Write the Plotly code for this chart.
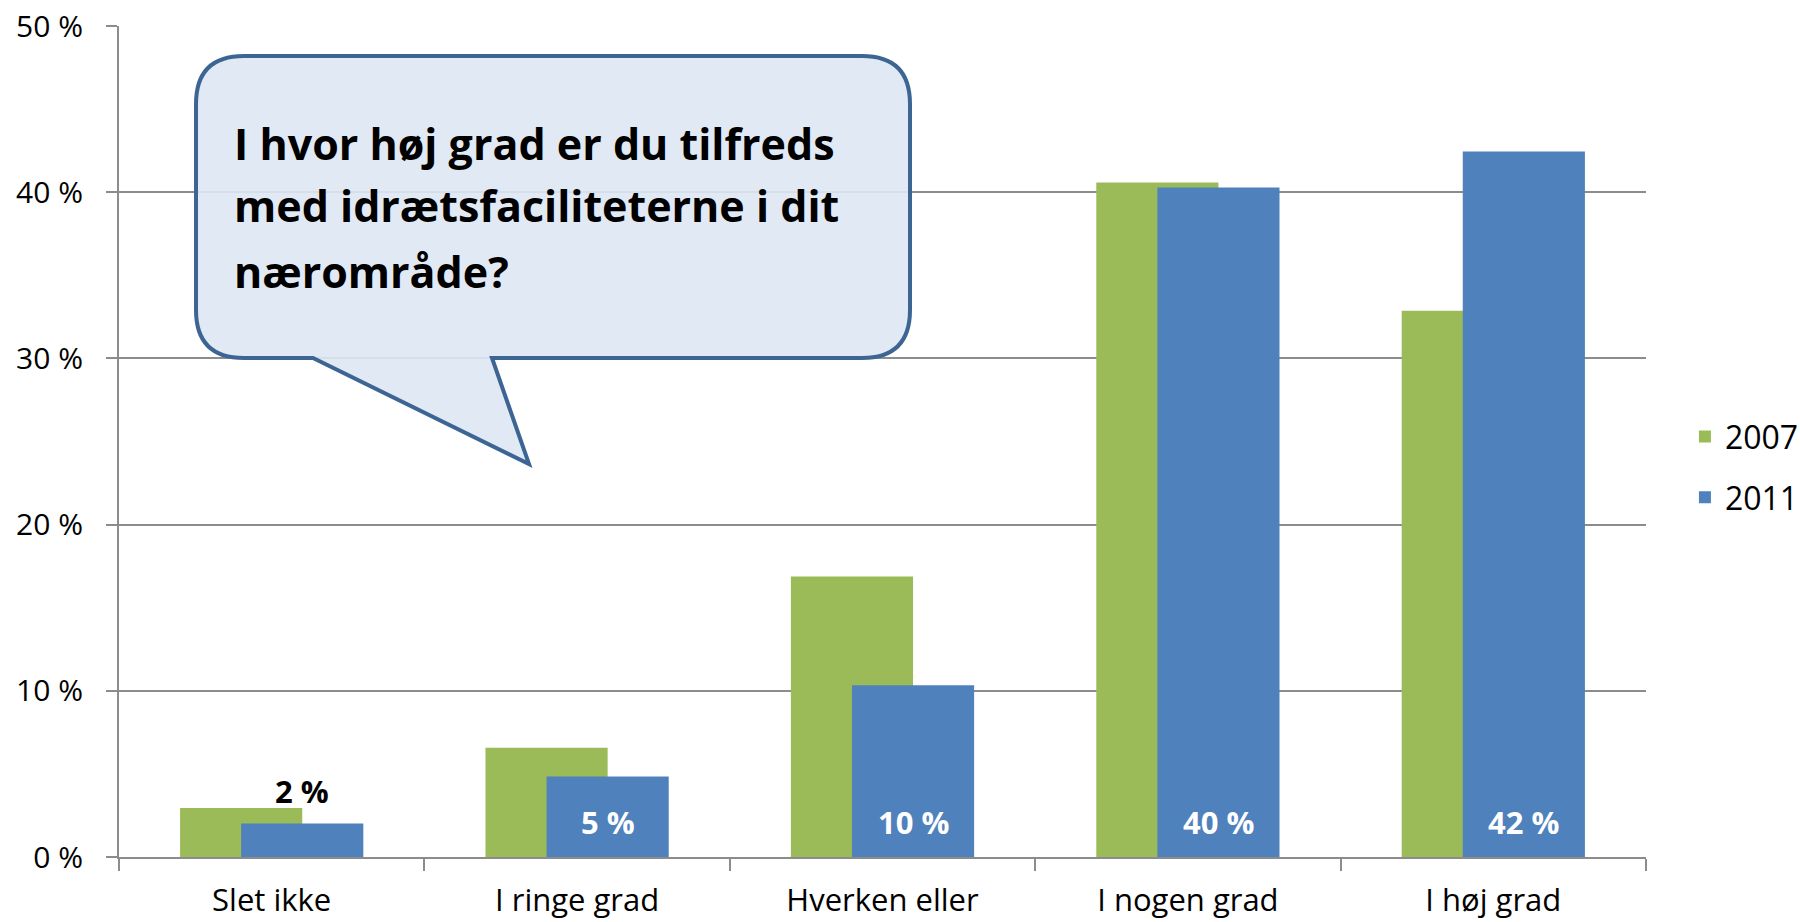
import plotly.graph_objects as go

categories = ["Slet ikke", "I ringe grad", "Hverken eller", "I nogen grad", "I høj grad"]
values_2007 = [2.95, 6.58, 16.88, 40.59, 32.86]
values_2011 = [2.01, 4.85, 10.34, 40.29, 42.45]
labels_2011 = ["2 %", "5 %", "10 %", "40 %", "42 %"]
series_names = ["2007", "2011"]
y_ticks = [0, 10, 20, 30, 40, 50]
y_tick_text = ["0 %", "10 %", "20 %", "30 %", "40 %", "50 %"]
question_lines = ["I hvor høj grad er du tilfreds", "med idrætsfaciliteterne i dit", "nærområde?"]

GREEN = "#9BBB59"
BLUE = "#4F81BD"
GRID = "#8C8C8C"
FONT = "Open Sans"

W, H = 1800, 922
ML, MR, MT, MB = 119, 154, 26, 65
PW, PH = W - ML - MR, H - MT - MB


def to_paper(px, py):
    return (px - ML) / PW, (H - MB - py) / PH


fig = go.Figure()
fig.add_trace(go.Bar(x=categories, y=values_2007, name=series_names[0], width=0.4, offset=-0.3,
                     marker=dict(color=GREEN, line=dict(width=0)), legendgroup="a"))
fig.add_trace(go.Bar(x=categories, y=values_2011, name=series_names[1], width=0.4, offset=-0.1,
                     marker=dict(color=BLUE, line=dict(width=0)), legendgroup="b"))

annotations = []
for i, (v, lab) in enumerate(zip(values_2011, labels_2011)):
    outside = i == 0
    annotations.append(dict(
        x=i + 0.1, y=v if outside else 0, xref="x", yref="y", text=lab, showarrow=False,
        xanchor="center", yanchor="bottom", yshift=10 if outside else 12,
        font=dict(family=FONT, size=31, color="black" if outside else "white", weight=700)))

# speech bubble (decoration)
r = 48
x0, x1, y0, y1 = 196, 910, 56, 358
pts = [("M", (x0 + r, y0)), ("L", (x1 - r, y0)), ("Q", (x1, y0), (x1, y0 + r)),
       ("L", (x1, y1 - r)), ("Q", (x1, y1), (x1 - r, y1)), ("L", (492, y1)), ("L", (529, 464)),
       ("L", (313, y1)), ("L", (x0 + r, y1)), ("Q", (x0, y1), (x0, y1 - r)),
       ("L", (x0, y0 + r)), ("Q", (x0, y0), (x0 + r, y0))]
path = ""
for item in pts:
    cmd = item[0]
    coords = " ".join("%.5f,%.5f" % to_paper(*p) for p in item[1:])
    path += cmd + coords + " "
path += "Z"

shapes = [dict(type="path", path=path, xref="paper", yref="paper",
               fillcolor="rgba(222,231,243,0.9)", line=dict(color="#3D6594", width=4), layer="above")]

baselines = [160, 223, 288]
for line, b in zip(question_lines, baselines):
    px, py = to_paper(232, b - 17)
    annotations.append(dict(x=px, y=py, xref="paper", yref="paper", text=line, showarrow=False,
                            xanchor="left", yanchor="middle",
                            font=dict(family=FONT, size=43, color="black", weight=700)))

fig.update_layout(
    width=W, height=H,
    margin=dict(l=ML, r=MR, t=MT, b=MB, pad=0, autoexpand=False),
    barmode="overlay",
    plot_bgcolor="white", paper_bgcolor="white",
    font=dict(family=FONT, color="black"),
    shapes=shapes, annotations=annotations,
    legend=dict(x=1.0255, y=0.469, xanchor="left", yanchor="middle", font=dict(size=32, family=FONT),
                tracegroupgap=16, traceorder="grouped", bgcolor="rgba(0,0,0,0)"),
    showlegend=True,
)
fig.update_xaxes(showline=True, linecolor=GRID, linewidth=2, ticks="outside", tickson="boundaries",
                 ticklen=12, tickcolor=GRID, tickwidth=2, tickfont=dict(size=31, family=FONT),
                 ticklabelstandoff=15, automargin=False, showgrid=False)
fig.update_yaxes(range=[0, 50], tickvals=y_ticks, ticktext=y_tick_text, showline=True, linecolor=GRID,
                 linewidth=2, ticks="outside", ticklen=11, tickcolor=GRID, tickwidth=2, showgrid=True,
                 gridcolor=GRID, gridwidth=2, zeroline=False, tickfont=dict(size=30, family=FONT),
                 ticklabelstandoff=17, automargin=False)

fig.write_html("out.html", config={"displayModeBar": False},
               post_script="document.body.style.margin='0';")
